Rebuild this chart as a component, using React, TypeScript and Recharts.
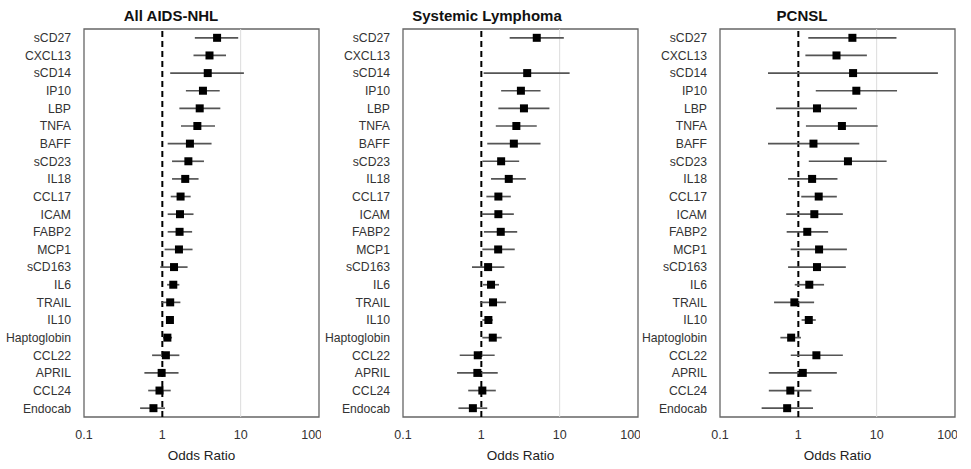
import React from "react";
import {
  ComposedChart,
  XAxis,
  YAxis,
  Scatter,
  ErrorBar,
  ReferenceLine,
  ReferenceArea,
} from "recharts";

const markers = [
  "sCD27", "CXCL13", "sCD14", "IP10", "LBP", "TNFA", "BAFF", "sCD23", "IL18", "CCL17", "ICAM",
  "FABP2", "MCP1", "sCD163", "IL6", "TRAIL", "IL10", "Haptoglobin", "CCL22", "APRIL", "CCL24", "Endocab",
];

const xTicks = [0.1, 1, 10, 100];
const rowTicks = markers.map((_, i) => i);

// All AIDS-NHL
const allOR = [5.0, 4.0, 3.8, 3.3, 3.0, 2.8, 2.25, 2.15, 1.96, 1.71, 1.68, 1.66, 1.63, 1.41, 1.38, 1.26, 1.25, 1.16, 1.11, 0.98, 0.92, 0.77];
const allLo = [2.6, 2.5, 1.26, 2.0, 1.65, 1.73, 1.17, 1.33, 1.33, 1.28, 1.17, 1.17, 1.07, 0.94, 1.15, 0.97, 1.12, 1.02, 0.74, 0.59, 0.66, 0.52];
const allHi = [9.3, 6.5, 11, 5.4, 5.5, 4.7, 4.25, 3.4, 2.9, 2.3, 2.5, 2.4, 2.43, 2.1, 1.65, 1.7, 1.39, 1.33, 1.65, 1.61, 1.28, 1.08];

// Systemic Lymphoma (no CXCL13 estimate)
const sysOR = [5.1, null, 3.85, 3.2, 3.5, 2.8, 2.6, 1.79, 2.24, 1.65, 1.65, 1.77, 1.64, 1.22, 1.33, 1.41, 1.23, 1.4, 0.9, 0.89, 1.03, 0.78];
const sysLo = [2.3, null, 1.07, 1.79, 1.65, 1.53, 1.19, 1.03, 1.33, 1.16, 1.01, 1.08, 1.03, 0.76, 1.05, 0.96, 1.03, 1.03, 0.53, 0.49, 0.68, 0.51];
const sysHi = [11.3, null, 13.4, 5.7, 7.4, 5.1, 5.7, 3.04, 3.7, 2.38, 2.6, 2.87, 2.67, 1.97, 1.68, 2.07, 1.4, 1.82, 1.48, 1.62, 1.53, 1.19];

// PCNSL
const pcnslOR = [4.9, 3.07, 5.0, 5.5, 1.73, 3.6, 1.56, 4.3, 1.5, 1.82, 1.6, 1.3, 1.84, 1.73, 1.38, 0.89, 1.36, 0.81, 1.7, 1.14, 0.79, 0.72];
const pcnslLo = [1.34, 1.23, 0.41, 1.67, 0.52, 1.25, 0.41, 1.36, 0.74, 1.09, 0.7, 0.71, 0.8, 0.74, 0.9, 0.49, 1.1, 0.59, 0.8, 0.42, 0.42, 0.34];
const pcnslHi = [17.9, 7.5, 60.5, 18.2, 5.6, 10.3, 6.0, 13.4, 3.16, 3.1, 3.7, 2.4, 4.17, 4.04, 2.13, 1.59, 1.67, 1.08, 3.7, 3.1, 1.47, 1.54];

const FONT = "'Liberation Sans', Arial, sans-serif";

const Square = (props: any) => {
  const { cx, cy } = props;
  if (!Number.isFinite(cx) || !Number.isFinite(cy)) return null;
  return <rect x={cx - 4} y={cy - 4} width={8} height={8} fill="#000" />;
};

interface ForestProps {
  title: string;
  or: (number | null)[];
  lo: (number | null)[];
  hi: (number | null)[];
  left: number;
  titleX: number;
}

const Forest: React.FC<ForestProps> = ({ title, or, lo, hi, left, titleX }) => {
  // rows without an estimate are left out; the row index keeps the others in place
  const rows = markers
    .map((name, i) => {
      const v = or[i];
      const l = lo[i];
      const h = hi[i];
      if (v == null || l == null || h == null) return null;
      return { name, idx: i, or: v, err: [v - l, h - v] };
    })
    .filter((r) => r !== null);
  return (
    <>
      <div
        style={{
          position: "absolute",
          left: titleX - 120,
          width: 240,
          top: 7,
          textAlign: "center",
          fontWeight: "bold",
          fontSize: 15,
          color: "#111",
          fontFamily: FONT,
        }}
      >
        {title}
      </div>
      <div style={{ position: "absolute", left, top: 0 }}>
        <ComposedChart
          width={321}
          height={469}
          layout="vertical"
          data={rows}
          margin={{ top: 29, right: 2, bottom: 0, left: 0 }}
        >
          <XAxis
            type="number"
            dataKey="or"
            scale="log"
            domain={[0.1, 100]}
            ticks={xTicks}
            tickFormatter={(v: number) => String(v)}
            allowDataOverflow
            axisLine={false}
            tickLine={false}
            tickMargin={7}
            height={52}
            tick={{ fontSize: 12.5, fill: "#333", fontFamily: FONT }}
            label={{
              value: "Odds Ratio",
              position: "insideBottom",
              offset: 9,
              fontSize: 13.5,
              fill: "#222",
              fontFamily: FONT,
            }}
          />
          <YAxis
            type="number"
            dataKey="idx"
            domain={[-0.5, markers.length - 0.5]}
            ticks={rowTicks}
            interval={0}
            tickFormatter={(i: number) => markers[i]}
            width={84}
            axisLine={false}
            tickLine={false}
            tickMargin={7}
            tick={{ fontSize: 12.2, fill: "#333", fontFamily: FONT }}
          />
          <ReferenceLine x={10} stroke="#dcdcdc" strokeWidth={1} />
          <ReferenceArea x1={0.1} x2={100} fill="none" stroke="#666" strokeWidth={1.3} fillOpacity={0} />
          <ReferenceLine x={1} stroke="#000" strokeWidth={2} strokeDasharray="6 4" />
          <Scatter dataKey="or" shape={Square} isAnimationActive={false}>
            <ErrorBar dataKey="err" direction="x" width={0} stroke="#555" strokeWidth={1.7} />
          </Scatter>
        </ComposedChart>
      </div>
    </>
  );
};

export default function App() {
  return (
    <div
      style={{
        position: "absolute",
        left: 0,
        top: 0,
        width: 971,
        height: 469,
        background: "#fff",
        fontFamily: FONT,
      }}
    >
      <Forest title="All AIDS-NHL" or={allOR} lo={allLo} hi={allHi} left={0} titleX={171} />
      <Forest title="Systemic Lymphoma" or={sysOR} lo={sysLo} hi={sysHi} left={319} titleX={487} />
      <Forest title="PCNSL" or={pcnslOR} lo={pcnslLo} hi={pcnslHi} left={636} titleX={802} />
    </div>
  );
}
